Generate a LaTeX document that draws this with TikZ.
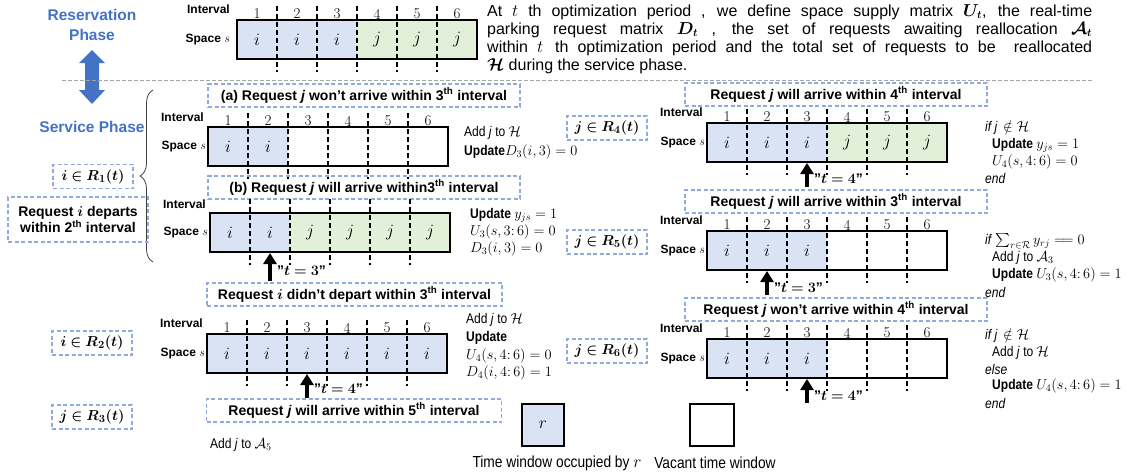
\documentclass[tikz,border=0pt]{standalone}
\usepackage{amsmath,amssymb,bm}
\usepackage{fontspec}
\setsansfont{Liberation Sans}
\newfontfamily\narrowsf[FakeStretch=0.86]{Liberation Sans}
\usetikzlibrary{arrows.meta,decorations.pathreplacing}
\definecolor{blueF}{HTML}{DAE3F3}
\definecolor{greenF}{HTML}{E2F0D9}
\definecolor{dashB}{HTML}{8FAADC}
\definecolor{phaseB}{HTML}{4472C4}
\newcommand{\qq}{\symbol{34}}
\tikzset{
  divider/.style={line width=1.2pt, dash pattern=on 5pt off 3pt},
  cellt/.style={font=\fontsize{17}{17}\selectfont, inner sep=0pt},
  numt/.style={font=\fontsize{15}{15}\selectfont, inner sep=0pt},
  lbl/.style={font=\sffamily\bfseries\fontsize{12}{12}\selectfont, inner sep=0pt, anchor=east},
  tbox/.style={draw=dashB, line width=1.1pt, dash pattern=on 4pt off 2.5pt, font=\sffamily\bfseries\fontsize{14}{14}\selectfont, inner sep=0pt, minimum height=23pt},
  rbox/.style={draw=dashB, line width=1.1pt, dash pattern=on 4pt off 2.5pt, font=\fontsize{15}{15}\selectfont, inner sep=0pt, minimum height=24pt, minimum width=80pt},
  rt/.style={font=\narrowsf\fontsize{14}{14}\selectfont, inner sep=0pt, anchor=west},
  tlab/.style={font=\sffamily\bfseries\fontsize{14}{14}\selectfont, inner sep=0pt, anchor=west},
  uparrow/.style={-{Triangle[width=13pt,length=11pt]}, line width=4pt},
  phase/.style={font=\sffamily\bfseries\fontsize{15.5}{20}\selectfont, text=phaseB, align=center, inner sep=0pt},
}
% #1 x left, #2 y top, #3 list fill/content
\newcommand{\slotrow}[3]{%
  \foreach \f/\t [count=\n] in {#3} {
    \path[fill=\f] ({#1+40*(\n-1)},{#2}) rectangle ({#1+40*\n},{#2+39});
    \node[cellt] at ({#1+40*(\n-1)+20},{#2+19.5}) {$\t$};
  }
  \foreach \k in {1,...,5} \draw[divider] ({#1+40*\k},{#2-14}) -- ({#1+40*\k},{#2+52});
  \draw[line width=1.3pt] (#1,#2) rectangle ({#1+240},{#2+39});
}
\newcommand{\slotnums}[2]{%
  \foreach \n in {1,...,6} \node[numt] at ({#1+40*\n-20},{#2-6}) {\n};
}
\begin{document}
\begin{tikzpicture}[x=1pt,y=-1pt]
\useasboundingbox (0,0) rectangle (1144,472);
\fill[white] (0,0) rectangle (1144,472);

% phases
\node[phase] (resph) at (92,25) {Reservation\\Phase};
\node[phase] (serph) at (92,127) {Service Phase};
\fill[phaseB] (92,50) -- (105,63) -- (99,63) -- (99,90) -- (105,90) -- (92,104) -- (79,90) -- (85,90) -- (85,63) -- (79,63) -- cycle;
\draw[gray!70, line width=0.8pt, dash pattern=on 4pt off 2pt] (62,80) -- (1092,80);

% top row
\slotrow{237}{20}{blueF/i,blueF/i,blueF/i,greenF/j,greenF/j,greenF/j}
\slotnums{237}{20}
\node[lbl] (int0) at (230,9) {Interval};
\node[lbl] (sp0) at (230,40) {Space $s$};
\node[anchor=north west, inner sep=0pt, text width=605pt, align=justify, font=\sffamily\fontsize{16}{18}\selectfont] (para) at (487,4) {At $t$ th optimization period , we define space supply matrix $\bm{U_t}$, the real-time\linebreak parking request matrix $\bm{D_t}$ , the set of requests awaiting reallocation $\bm{\mathcal{A}_t}$\linebreak within $t$\, th optimization period and the total set of requests to be\ \ reallocated\linebreak $\bm{\mathcal{H}}$ during the service phase.};

% brace and left boxes
\draw[black!75, line width=0.8pt, decorate, decoration={brace, amplitude=13pt}] (153,262) -- (153,90);
\node[rbox] (r1) at (93,176.5) {$\bm{i\in R_1(t)}$};
\node[rbox, minimum width=140pt, minimum height=45pt, align=center, font=\sffamily\bfseries\fontsize{14}{16}\selectfont] (dep) at (78,219.5) {Request $\bm{i}$ departs\\within 2\textsuperscript{th} interval};
\node[rbox] (r2) at (92,343) {$\bm{i\in R_2(t)}$};
\node[rbox] (r3) at (92,417) {$\bm{j\in R_3(t)}$};

% row (a)
\node[tbox, minimum width=312pt] (ta) at (364,95.5) {(a) Request \textit{j} won’t arrive within 3\textsuperscript{th} interval};
\slotrow{208}{127}{blueF/i,blueF/i,white/,white/,white/,white/}
\slotnums{208}{127}
\node[lbl] (inta) at (204,117) {Interval};
\node[lbl] (spa) at (206,147) {Space $s$};
\node[rt] (ra1) at (464,133) {Add \textit{j} to $\mathcal{H}$};
\node[rt] (ra2) at (464,152) {\textbf{Update}$D_3(i,3)=0$};

% row (b)
\node[tbox, minimum width=312pt] (tb) at (364,187.5) {(b) Request \textit{j} will arrive within3\textsuperscript{th} interval};
\slotrow{210}{213}{blueF/i,blueF/i,greenF/j,greenF/j,greenF/j,greenF/j}
\node[lbl] (intb) at (206,204) {Interval};
\node[lbl] (spb) at (208,233) {Space $s$};
\node[rt] (rb1) at (470,215) {\textbf{Update} $y_{js}=1$};
\node[rt] (rb2) at (470,232) {$U_3(s,3{:}\,6)=0$};
\node[rt] (rb3) at (470,249) {$D_3(i,3)=0$};
\coordinate (atb0) at (270,281);
\coordinate (atb1) at (270,253);
\draw[uparrow] (atb0) -- (atb1);
\node[tlab] (lb) at (277,271) {\qq$\bm{t=3}$\qq};

% row R2
\node[tbox, minimum width=295pt] (t2) at (354.5,294.5) {Request $\bm{i}$ didn’t depart within 3\textsuperscript{th} interval};
\slotrow{207}{334}{blueF/i,blueF/i,blueF/i,blueF/i,blueF/i,blueF/i}
\slotnums{207}{334}
\node[lbl] (int2) at (203,323) {Interval};
\node[lbl] (sp2) at (205,354) {Space $s$};
\node[rt] (r2a) at (466,320) {Add \textit{j} to $\mathcal{H}$};
\node[rt] (r2b) at (466,338) {\textbf{Update}};
\node[rt] (r2c) at (466,356) {$U_4(s,4{:}\,6)=0$};
\node[rt] (r2d) at (466,373) {$D_4(i,4{:}\,6)=1$};
\coordinate (at20) at (307,398);
\coordinate (at21) at (307,374);
\draw[uparrow] (at20) -- (at21);
\node[tlab] (l2) at (314,389) {\qq$\bm{t=4}$\qq};

% row R3
\node[tbox, minimum width=295pt] (t3) at (354,410.5) {Request \textit{j} will arrive within 5\textsuperscript{th} interval};
\node[rt] (r3a) at (210,445) {Add \textit{j} to $\mathcal{A}_5$};

% legend
\node[draw, line width=1.3pt, fill=blueF, minimum width=42pt, minimum height=42pt, inner sep=0pt, font=\fontsize{17}{17}\selectfont] (legr) at (543,425) {$r$};
\node[draw, line width=1.3pt, fill=white, minimum width=44pt, minimum height=42pt, inner sep=0pt] (legv) at (712,425) {};
\node[font=\narrowsf\fontsize{16}{16}\selectfont, inner sep=0pt] (legrt) at (557,463) {Time window occupied by $r$};
\node[font=\narrowsf\fontsize{16}{16}\selectfont, inner sep=0pt] (legvt) at (715,463) {Vacant time window};

% right column R4
\node[rbox] (r4) at (607,128) {$\bm{j\in R_4(t)}$};
\node[tbox, minimum width=302pt] (t4) at (836,94.5) {Request \textit{j} will arrive within 4\textsuperscript{th} interval};
\slotrow{707}{123}{blueF/i,blueF/i,blueF/i,greenF/j,greenF/j,greenF/j}
\slotnums{707}{123}
\node[lbl] (int4) at (703,112) {Interval};
\node[lbl] (sp4) at (705,143) {Space $s$};
\node[rt] (r4a) at (985,128) {\textit{if j}\, $\notin\mathcal{H}$};
\node[rt] (r4b) at (992,145) {\textbf{Update} $y_{js}=1$};
\node[rt] (r4c) at (992,162) {$U_4(s,4{:}\,6)=0$};
\node[rt] (r4d) at (985,178) {\textit{end}};
\coordinate (at40) at (807,187);
\coordinate (at41) at (807,163);
\draw[uparrow] (at40) -- (at41);
\node[tlab] (l4) at (814,179) {\qq$\bm{t=4}$\qq};

% right column R5
\node[rbox] (r5) at (607,242) {$\bm{j\in R_5(t)}$};
\node[tbox, minimum width=302pt] (t5) at (836,201.5) {Request \textit{j} will arrive within 3\textsuperscript{th} interval};
\slotrow{707}{231}{blueF/i,blueF/i,blueF/i,white/,white/,white/}
\slotnums{707}{231}
\node[lbl] (int5) at (703,220) {Interval};
\node[lbl] (sp5) at (705,251) {Space $s$};
\node[rt] (r5a) at (985,241) {\textit{if} $\sum_{r\in\mathcal{R}} y_{rj} \mathrel{=\!=} 0$};
\node[rt] (r5b) at (992,258) {Add \textit{j} to $\mathcal{A}_3$};
\node[rt] (r5c) at (992,275) {\textbf{Update} $U_3(s,4{:}\,6)=1$};
\node[rt] (r5d) at (985,292) {\textit{end}};
\coordinate (at50) at (767,295);
\coordinate (at51) at (767,271);
\draw[uparrow] (at50) -- (at51);
\node[tlab] (l5) at (774,288) {\qq$\bm{t=3}$\qq};

% right column R6
\node[rbox] (r6) at (607,351) {$\bm{j\in R_6(t)}$};
\node[tbox, minimum width=302pt] (t6) at (836,309.5) {Request \textit{j} won’t arrive within 4\textsuperscript{th} interval};
\slotrow{707}{339}{blueF/i,blueF/i,blueF/i,white/,white/,white/}
\slotnums{707}{339}
\node[lbl] (int6) at (703,328) {Interval};
\node[lbl] (sp6) at (705,359) {Space $s$};
\node[rt] (r6a) at (985,336) {\textit{if j}\, $\notin\mathcal{H}$};
\node[rt] (r6b) at (992,353) {Add \textit{j} to $\mathcal{H}$};
\node[rt] (r6c) at (985,369) {\textit{else}};
\node[rt] (r6d) at (992,386) {\textbf{Update} $U_4(s,4{:}\,6)=1$};
\node[rt] (r6e) at (985,403) {\textit{end}};
\coordinate (at60) at (807,403);
\coordinate (at61) at (807,379);
\draw[uparrow] (at60) -- (at61);
\node[tlab] (l6) at (814,396) {\qq$\bm{t=4}$\qq};
\end{tikzpicture}
\end{document}
